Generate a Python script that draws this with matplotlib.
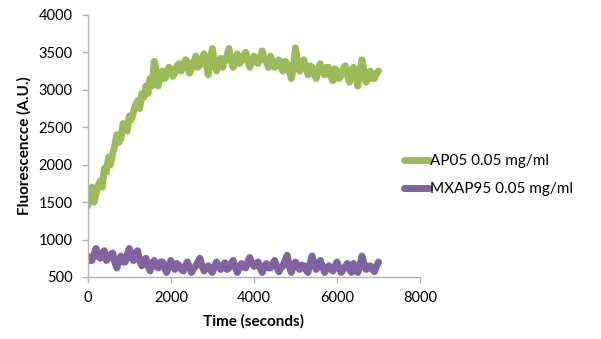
import matplotlib.pyplot as plt
import numpy as np

time_s = list(range(0, 7050, 50))

ap05 = [1450, 1650, 1700, 1500, 1620, 1720, 1780, 1700, 1950, 1900,
        2100, 2000, 2150, 2250, 2400, 2300, 2350, 2550, 2500, 2450,
        2650, 2600, 2700, 2800, 2850, 2750, 2950, 2900, 3050, 2950,
        3150, 3050, 3380, 3250, 3050, 3200, 3250, 3150, 3200, 3300,
        3280, 3180, 3230, 3320, 3350, 3250, 3300, 3400, 3380, 3220,
        3280, 3350, 3450, 3300, 3330, 3420, 3480, 3350, 3200, 3400,
        3550, 3350, 3250, 3380, 3420, 3300, 3400, 3450, 3550, 3380,
        3300, 3420, 3480, 3350, 3380, 3450, 3500, 3400, 3300, 3380,
        3450, 3380, 3350, 3430, 3520, 3400, 3380, 3300, 3450, 3350,
        3300, 3380, 3400, 3300, 3250, 3380, 3350, 3250, 3150, 3300,
        3560, 3350, 3250, 3350, 3400, 3300, 3200, 3320, 3300, 3200,
        3150, 3280, 3350, 3250, 3200, 3300, 3300, 3180, 3120, 3280,
        3250, 3150, 3200, 3280, 3320, 3200, 3100, 3250, 3300, 3200,
        3050, 3250, 3400, 3250, 3100, 3200, 3250, 3150, 3150, 3220,
        3250]

mxap95 = [780, 720, 720, 800, 880, 780, 750, 820, 850, 720,
          760, 800, 820, 700, 620, 720, 780, 700, 700, 800,
          880, 760, 720, 820, 850, 720, 650, 720, 750, 650,
          580, 680, 720, 640, 620, 700, 700, 620, 560, 650,
          720, 650, 600, 680, 650, 600, 580, 650, 700, 620,
          560, 620, 640, 700, 750, 650, 580, 620, 650, 600,
          560, 640, 700, 640, 600, 650, 690, 600, 620, 680,
          720, 640, 560, 620, 680, 640, 620, 700, 760, 680,
          640, 680, 700, 620, 560, 640, 680, 620, 620, 680,
          720, 640, 570, 620, 650, 720, 790, 640, 560, 640,
          700, 640, 600, 660, 650, 600, 560, 680, 780, 680,
          600, 660, 720, 640, 560, 620, 650, 600, 580, 640,
          700, 620, 560, 600, 640, 680, 600, 560, 680, 620,
          560, 650, 780, 680, 600, 620, 650, 600, 570, 640,
          700]

labels = ["AP05 0.05 mg/ml", "MXAP95 0.05 mg/ml"]
colors = ["#9bbb59", "#8064a2"]

plt.rcParams['font.family'] = ['Lato', 'DejaVu Sans']

fig = plt.figure(figsize=(6.01, 3.39), dpi=100)
ax = fig.add_axes([0.146, 0.183, 0.553, 0.773])

ax.plot(time_s, ap05, color=colors[0], lw=5, solid_joinstyle='round',
        solid_capstyle='round', label=labels[0])
ax.plot(time_s, mxap95, color=colors[1], lw=5, solid_joinstyle='round',
        solid_capstyle='round', label=labels[1])

ax.set_xlim(0, 8000)
ax.set_ylim(500, 4000)
ax.set_xticks(np.arange(0, 8001, 2000))
ax.set_yticks(np.arange(500, 4001, 500))

for s in ['top', 'right']:
    ax.spines[s].set_visible(False)
for s in ['left', 'bottom']:
    ax.spines[s].set_color('#b3b3b3')
    ax.spines[s].set_linewidth(1.0)
ax.tick_params(colors='#b3b3b3', length=4, width=1.0, labelcolor='black',
               labelsize=10.5)
ax.tick_params(axis='x', pad=6)
ax.tick_params(axis='y', pad=7)

ax.set_xlabel("Time (seconds)", fontsize=11, fontweight='bold', labelpad=7)
ax.set_ylabel("Fluorescencce (A.U.)", fontsize=11, fontweight='bold',
              labelpad=5)

fig.legend(loc='center left', bbox_to_anchor=(0.65, 0.483), frameon=False,
           handlelength=1.6, handletextpad=0.1, labelspacing=0.9, fontsize=11)

fig.savefig("out.png", dpi=100)
